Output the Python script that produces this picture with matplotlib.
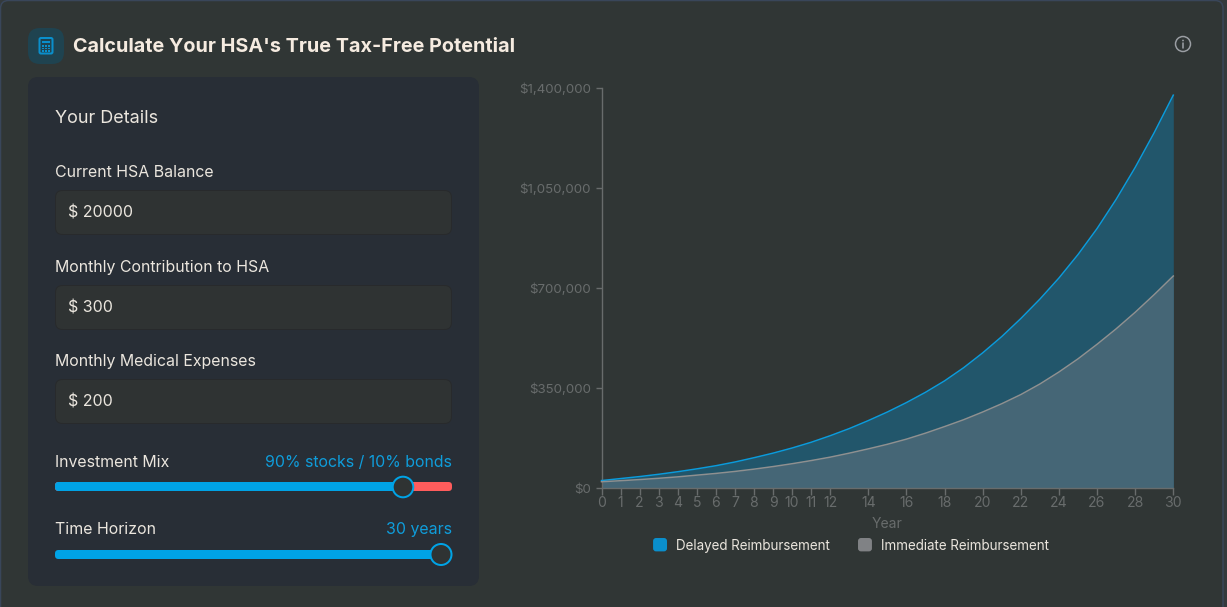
import matplotlib
matplotlib.use("Agg")
import matplotlib.pyplot as plt
from matplotlib.patches import FancyBboxPatch, Circle, Rectangle
from matplotlib.legend_handler import HandlerPatch
from matplotlib.ticker import FixedLocator, FuncFormatter

years = list(range(31))
delayed = [26, 33, 40, 48, 57, 67, 78, 91, 106, 122, 140, 160, 183, 208, 236, 266, 299,
           335, 375, 421, 473, 530, 593, 661, 735, 817, 908, 1010, 1122, 1244, 1375]
immediate = [22, 25.5, 29.5, 34, 39, 45, 51, 58, 66, 75, 85, 96, 108, 122, 137, 153, 171,
             192, 215, 239, 266, 295, 327, 364, 406, 452, 503, 557, 615, 677, 742]
delayed = [v * 1000 for v in delayed]
immediate = [v * 1000 for v in immediate]
x_ticks = list(range(13)) + list(range(14, 31, 2))
y_ticks = [0, 350000, 700000, 1050000, 1400000]
series_names = ["Delayed Reimbursement", "Immediate Reimbursement"]

plt.rcParams["font.family"] = ["Inter", "Roboto", "DejaVu Sans"]
W, H = 1227, 607
PX = 0.72
BG = "#303635"
CREAM = "#f5ebe0"
LABEL = "#ebe6de"
BLUE = "#0f9ddb"
TRACK = "#00a3e6"
GRAY = "#686c6c"

fig = plt.figure(figsize=(W / 100, H / 100), dpi=100, facecolor="#343a3c")

ui = fig.add_axes([0, 0, 1, 1], zorder=0)
ui.set_xlim(0, W)
ui.set_ylim(H, 0)
ui.axis("off")


def rbox(x0, y0, x1, y1, r, fc, ec="none", lw=0, z=1):
    p = FancyBboxPatch((x0 + r, y0 + r), x1 - x0 - 2 * r, y1 - y0 - 2 * r,
                       boxstyle=f"round,pad={r},rounding_size={r}",
                       fc=fc, ec=ec, lw=lw * PX, zorder=z)
    ui.add_patch(p)
    return p


def label(x, y, s, size, color=LABEL, ha="left", weight="normal"):
    ui.text(x, y + 1.3, s, fontsize=size * PX, color=color, ha=ha, va="center", weight=weight, zorder=5)


# card
rbox(0.5, 0.5, 1223, 640, 8, BG, "#39465a", 1.5)

# header
rbox(28, 28, 64, 64, 12, "#1f4350")
rbox(39.5, 38, 52.5, 53.5, 1.5, "none", "#0a8fcc", 2, z=3)
ui.add_patch(Rectangle((42, 41), 8, 2, fc="#0a8fcc", zorder=3))
for gx in (42, 45, 48):
    for gy in (45, 47.5, 50):
        ui.add_patch(Rectangle((gx, gy), 1.8, 1.5, fc="#0a8fcc", zorder=3))
label(73, 46.2, "Calculate Your HSA's True Tax-Free Potential", 19.8, CREAM, weight="bold")

# info icon
ui.add_patch(Circle((1183, 44), 7.5, fc="none", ec="#9a9ea3", lw=1.5 * PX, zorder=3))
ui.plot([1183, 1183], [43, 48], color="#9a9ea3", lw=1.6 * PX, zorder=3, solid_capstyle="round")
ui.add_patch(Circle((1183, 40.5), 0.9, fc="#9a9ea3", zorder=3))

# left panel
rbox(28, 77, 479, 586, 10, "#282e36")
label(55, 117.3, "Your Details", 18)
fields = [(171.5, 190, "Current HSA Balance", "$ 20000"),
          (266.5, 285, "Monthly Contribution to HSA", "$ 300"),
          (360.5, 379, "Monthly Medical Expenses", "$ 200")]
for ly, by, name, val in fields:
    label(55, ly - 0.3, name, 15.9)
    rbox(55.5, by + 0.5, 451.5, by + 44.5, 7, "#2f3333", "#282a2c", 1, z=2)
    label(68.5, by + 22, val, 16)

# sliders
label(55, 461.5, "Investment Mix", 15.9)
label(452, 461.5, "90% stocks / 10% bonds", 15.9, BLUE, ha="right")
rbox(55, 482, 452, 491, 3.5, "#ff5c5c", z=2)
rbox(55, 482, 405, 491, 3.5, TRACK, z=2.5)
ui.add_patch(Circle((403, 487), 10.3, fc="#2f3333", ec=TRACK, lw=2 * PX, zorder=3))

label(55, 528.5, "Time Horizon", 15.9)
label(452, 528.5, "30 years", 15.9, BLUE, ha="right")
rbox(55, 550, 445, 559, 3.5, TRACK, z=2.5)
ui.add_patch(Circle((441, 554.5), 10.5, fc="#2f3333", ec=TRACK, lw=2 * PX, zorder=3))

# chart
ax = fig.add_axes([601.5 / W, 1 - 488 / H, (1173.3 - 601.5) / W, 400 / H], zorder=2)
ax.patch.set_alpha(0)
ax.fill_between(years, 0, delayed, color="#22566b", lw=0, zorder=1)
ax.fill_between(years, 0, immediate, color="#456676", lw=0, zorder=2)
ax.plot(years, delayed, color="#0a9bdc", lw=1.5 * PX, zorder=3, clip_on=False)
ax.plot(years, immediate, color="#8f9090", lw=1.5 * PX, zorder=4, clip_on=False)
ax.set_xlim(0, 30)
ax.set_ylim(0, 1400000)
ax.xaxis.set_major_locator(FixedLocator(x_ticks))
ax.yaxis.set_major_locator(FixedLocator(y_ticks))
ax.yaxis.set_major_formatter(FuncFormatter(lambda v, _: f"${v:,.0f}"))
ax.tick_params(axis="x", colors=GRAY, labelsize=14 * PX, length=6.5 * PX, width=1.4 * PX, pad=1)
ax.tick_params(axis="y", colors=GRAY, labelsize=13.3 * PX, length=6.5 * PX, width=1.4 * PX, pad=3)
for side in ("top", "right"):
    ax.spines[side].set_visible(False)
for side in ("left", "bottom"):
    ax.spines[side].set_color(GRAY)
    ax.spines[side].set_linewidth(1.4 * PX)
ax.set_xlabel("Year", fontsize=14 * PX, color=GRAY, labelpad=4.8)


class RoundHandler(HandlerPatch):
    def create_artists(self, legend, orig, xd, yd, w, h, fs, trans):
        r = 3 * PX
        p = FancyBboxPatch((r, r - 1), w - 2 * r, h - 2 * r + 1,
                           boxstyle=f"round,pad={r},rounding_size={r}",
                           fc=orig.get_facecolor(), ec="none", transform=trans)
        return [p]


h1 = Rectangle((0, 0), 1, 1, fc="#0a8fcc")
h2 = Rectangle((0, 0), 1, 1, fc="#808285")
fig.legend([h1, h2], series_names, loc="center", bbox_to_anchor=(851 / W, 1 - 546 / H),
           ncol=2, frameon=False, fontsize=13.4 * PX, labelcolor=LABEL,
           handler_map={Rectangle: RoundHandler()}, handlelength=1.04, handleheight=1.0,
           handletextpad=0.67, columnspacing=2.1, borderpad=0, borderaxespad=0)

fig.savefig("out.png", dpi=100, facecolor=fig.get_facecolor())
